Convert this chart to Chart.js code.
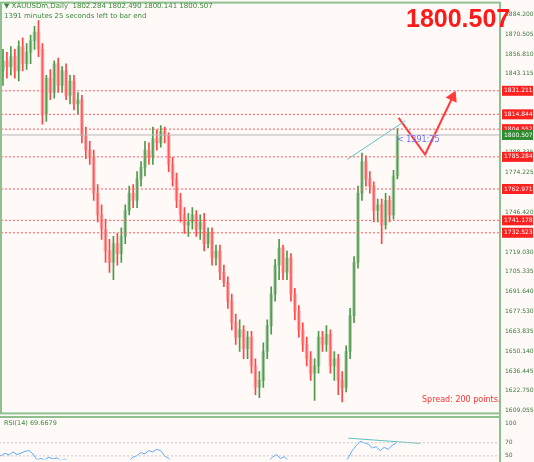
<!DOCTYPE html>
<html>
<head>
<meta charset="utf-8">
<script src="https://cdn.jsdelivr.net/npm/chart.js@4.4.1/dist/chart.umd.min.js"></script>
<style>
  body { margin: 0; background: #fffaf8; width: 534px; height: 462px; overflow: hidden; position: relative; font-family: "DejaVu Sans", sans-serif; }
  #main { position: absolute; left: -6px; top: -6px; }
  #rsi { position: absolute; left: -6px; top: 410px; }
  .txt { position: absolute; white-space: nowrap; }
</style>
</head>
<body>
<canvas id="main" width="546" height="427"></canvas>
<canvas id="rsi" width="546" height="58"></canvas>
<div class="txt" style="left:4px;top:2px;font-size:7px;color:#3b8a3b">&#9660; XAUUSDm,Daily&nbsp; 1802.284 1802.490 1800.141 1800.507</div>
<div class="txt" style="left:4px;top:12px;font-size:7px;color:#3b8a3b">1391 minutes 25 seconds left to bar end</div>
<div class="txt" style="left:406px;top:4px;font-size:25px;font-weight:bold;color:#ff1a1a;font-family:'Liberation Sans',sans-serif">1800.507</div>
<div class="txt" style="left:397px;top:135px;font-size:8px;color:#6a6aff">&lt; 1391:25</div>
<div class="txt" style="left:422px;top:395px;font-size:8px;color:#ff3030">Spread: 200 points.</div>
<div class="txt" style="left:4px;top:419px;font-size:6.5px;color:#3b8a3b">RSI(14) 69.6679</div>
<script>
// daily bars
const open = [1845,1852,1848,1855,1845,1862,1850,1858,1866,1872, 1860,1815,1840,1830,1850,1835,1845,1828,1838,1822,
  1825,1800,1790,1785,1760,1745,1735,1720,1712,1725, 1718,1730,1748,1760,1755,1770,1778,1790,1785,1798,
  1795,1803,1800,1780,1770,1755,1745,1738,1740,1745, 1735,1740,1725,1732,1715,1720,1705,1698,1685,1670,
  1660,1665,1652,1660,1640,1625,1630,1650,1668,1690, 1710,1722,1705,1715,1690,1678,1665,1655,1645,1635,
  1640,1660,1655,1662,1640,1645,1630,1625,1650,1675, 1712,1760,1782,1770,1765,1748,1752,1738,1755,1745, 1772];
const high = [1860,1858,1862,1860,1866,1868,1864,1870,1876,1880, 1864,1842,1846,1852,1854,1848,1850,1842,1842,1830,
  1828,1806,1796,1790,1766,1752,1742,1728,1730,1732, 1736,1752,1765,1766,1775,1782,1796,1795,1806,1804,
  1807,1806,1802,1785,1774,1760,1750,1746,1750,1748, 1745,1746,1736,1736,1724,1724,1710,1702,1690,1676,
  1672,1668,1664,1664,1645,1636,1656,1672,1695,1714, 1728,1724,1720,1718,1694,1682,1670,1660,1650,1645,
  1664,1664,1668,1665,1650,1648,1636,1654,1680,1716, 1765,1788,1786,1775,1768,1756,1756,1760,1758,1776, 1805];
const low = [1835,1840,1842,1840,1838,1845,1846,1850,1860,1855, 1808,1810,1825,1826,1830,1830,1825,1822,1818,1815,
  1795,1784,1780,1755,1740,1728,1712,1705,1700,1710, 1712,1725,1745,1750,1750,1765,1772,1780,1780,1790,
  1792,1795,1775,1765,1750,1740,1732,1730,1735,1730, 1728,1720,1722,1710,1710,1700,1695,1680,1665,1655,
  1650,1645,1645,1635,1620,1618,1625,1645,1662,1685, 1700,1700,1700,1685,1672,1660,1650,1640,1630,1616,
  1635,1650,1650,1635,1630,1620,1615,1622,1645,1670, 1708,1755,1765,1760,1740,1740,1725,1735,1740,1742, 1770];
const close = [1852,1848,1855,1845,1862,1850,1858,1866,1872,1860, 1815,1840,1830,1850,1835,1845,1828,1838,1822,1825,
  1800,1790,1785,1760,1745,1735,1720,1712,1725,1718, 1730,1748,1760,1755,1770,1778,1790,1785,1798,1795,
  1803,1800,1780,1770,1755,1745,1738,1740,1745,1735, 1740,1725,1732,1715,1720,1705,1698,1685,1670,1660,
  1665,1652,1660,1640,1625,1630,1650,1668,1690,1710, 1722,1705,1715,1690,1678,1665,1655,1645,1635,1640,
  1660,1655,1662,1640,1645,1630,1625,1650,1675,1712, 1760,1782,1770,1765,1748,1752,1738,1755,1745,1772, 1800.507];
const rsi = [52,50,54,51,56,52,54,57,58,53, 44,46,44,48,45,47,43,45,42,43, 38,35,34,30,28,26,24,23,27,26,
  30,36,42,41,48,50,55,53,58,56, 60,58,50,46,40,38,36,37,39,36, 38,34,36,31,33,30,29,26,24,22,
  25,23,26,22,20,22,30,36,42,48, 52,46,49,42,38,35,32,30,28,30, 38,36,39,32,34,30,29,38,47,58,
  66,72,70,68,62,64,58,63,60,66, 69.67];
const levels = [1831.211, 1814.844, 1804.552, 1785.284, 1762.971, 1741.178, 1732.523];
const lastPrice = 1800.507;
const priceTicks = [1884.200,1870.505,1856.810,1843.115,1829.420,1815.725,1802.030,1788.335,1774.225,1760.530,
  1746.420,1732.725,1719.030,1705.335,1691.640,1677.530,1663.835,1650.140,1636.445,1622.750,1609.055];
const trendLine = [{x: 87.3, y: 1783.5}, {x: 102, y: 1810.4}];
const arrowPath = [{x: 100.3, y: 1812.4}, {x: 107, y: 1786.9}, {x: 114, y: 1826.9}];
const rsiTrend = [{x: 88, y: 77}, {x: 106, y: 69}];
const rsiTicks = [100, 70, 50];

const X_MIN = -0.5, X_MAX = 126;
const GREEN = '#4a9a4a', RED = '#ff4545';
const up = close.map((c, i) => c >= open[i]);

function hline(v, color, dash) {
  return { type: 'line', data: [{x: X_MIN, y: v}, {x: X_MAX, y: v}], borderColor: color,
    borderWidth: 1, borderDash: dash, pointRadius: 0 };
}

const tagPlugin = {
  id: 'tags',
  afterDraw(chart) {
    const ctx = chart.ctx, y = chart.scales.y, a = chart.chartArea;
    ctx.save();
    ctx.strokeStyle = '#8fc08f'; ctx.lineWidth = 2;
    ctx.strokeRect(a.left, a.top, a.right - a.left, a.bottom - a.top + 1);
    ctx.font = '6px "DejaVu Sans"'; ctx.textBaseline = 'middle';
    const tags = levels.map(v => [v, '#ff2020']).concat([[lastPrice, '#2e8b2e']]);
    tags.forEach(([v, col]) => {
      const py = y.getPixelForValue(v);
      ctx.fillStyle = col; ctx.fillRect(a.right + 2, py - 5, 31, 10);
      ctx.fillStyle = '#fff'; ctx.fillText(v.toFixed(3), a.right + 4, py);
    });
    ctx.restore();
  }
};

new Chart(document.getElementById('main'), {
  type: 'bar',
  data: {
    datasets: [
      ...levels.map(v => hline(v, '#ff5a5a', [2, 2])),
      hline(lastPrice, '#b8b8b8', []),
      { type: 'bar', data: open.map((o, i) => ({x: i, y: [Math.min(o, close[i]), Math.max(o, close[i])]})),
        backgroundColor: up.map(u => u ? 'rgba(90,160,90,0.45)' : 'rgba(255,110,110,0.5)'),
        barThickness: 3, grouped: false },
      { type: 'bar', data: high.map((h, i) => ({x: i, y: [low[i], h]})),
        backgroundColor: up.map(u => u ? GREEN : RED), barThickness: 1, grouped: false },
      { type: 'line', data: trendLine, borderColor: '#5fc0c0', borderWidth: 1, pointRadius: 0 },
      { type: 'line', data: arrowPath, borderColor: '#ff3b3b', borderWidth: 2,
        pointRadius: [0, 0, 5], pointStyle: 'triangle', rotation: 25, pointBackgroundColor: '#ff3b3b' }
    ]
  },
  options: {
    responsive: false, animation: false,
    layout: { padding: { left: 1, top: 2, right: 0, bottom: 0 } },
    plugins: { legend: { display: false }, tooltip: { enabled: false } },
    scales: {
      x: { type: 'linear', min: X_MIN, max: X_MAX, display: false, offset: false },
      y: { position: 'right', min: 1607.7, max: 1892.5,
        grid: { display: false, drawTicks: false, tickLength: 0 }, border: { display: false },
        afterBuildTicks: s => { s.ticks = priceTicks.map(v => ({value: v})); },
        afterFit: s => { s.width = 40; },
        ticks: { font: { size: 6, family: 'DejaVu Sans' }, color: '#3b7a3b', padding: 5,
          callback: v => v.toFixed(3) } }
    }
  },
  plugins: [tagPlugin]
});

const rsiFrame = {
  id: 'rsiFrame',
  afterDraw(chart) {
    const ctx = chart.ctx, a = chart.chartArea;
    ctx.save(); ctx.strokeStyle = '#8fc08f'; ctx.lineWidth = 2;
    ctx.beginPath(); ctx.moveTo(a.left, 0); ctx.lineTo(a.left, 58);
    ctx.moveTo(a.right, 0); ctx.lineTo(a.right, 58); ctx.moveTo(a.left, 7); ctx.lineTo(a.right, 7);
    ctx.stroke(); ctx.restore();
  }
};

new Chart(document.getElementById('rsi'), {
  type: 'line',
  data: {
    datasets: [
      hline(70, '#c8c8c8', [2, 2]),
      hline(50, '#c8c8c8', [2, 2]),
      { data: rsi.map((v, i) => ({x: i, y: v})), borderColor: '#5aaaff', borderWidth: 1, pointRadius: 0 },
      { data: rsiTrend, borderColor: '#5fc0c0', borderWidth: 1, pointRadius: 0 }
    ]
  },
  options: {
    responsive: false, animation: false,
    layout: { padding: { left: 1, top: 0, right: 0, bottom: 0 } },
    plugins: { legend: { display: false }, tooltip: { enabled: false } },
    scales: {
      x: { type: 'linear', min: X_MIN, max: X_MAX, display: false },
      y: { position: 'right', min: 44.6, max: 106.8,
        grid: { display: false, drawTicks: false, tickLength: 0 }, border: { display: false },
        afterBuildTicks: s => { s.ticks = rsiTicks.map(v => ({value: v})); },
        afterFit: s => { s.width = 40; },
        ticks: { font: { size: 6, family: 'DejaVu Sans' }, color: '#3b7a3b', padding: 5 } }
    }
  },
  plugins: [rsiFrame]
});
</script>
</body>
</html>
